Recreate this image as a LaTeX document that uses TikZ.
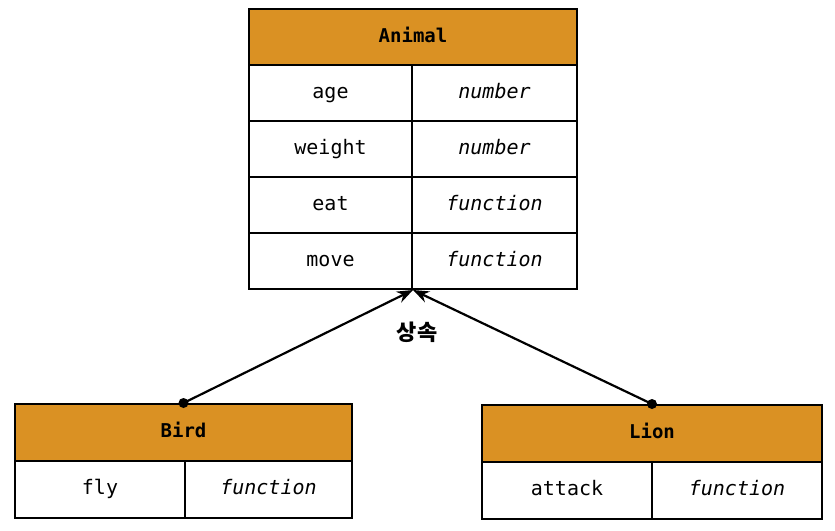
\documentclass[tikz,border=0pt]{standalone}
\usepackage{fontspec}
\setmonofont{DejaVu Sans Mono}
\newfontfamily\krfont{Noto Sans CJK KR}
\usetikzlibrary{arrows.meta}
\definecolor{headorange}{RGB}{218,145,35}
\tikzset{
  cell/.style={draw, line width=2pt, anchor=north west, inner sep=0pt,
    text height=14pt, text depth=4pt,
    font=\ttfamily\fontsize{20}{24}\selectfont},
  head/.style={cell, fill=headorange, font=\ttfamily\bfseries\fontsize{19}{24}\selectfont},
  kind/.style={cell, font=\ttfamily\itshape\fontsize{20}{24}\selectfont},
  inherit/.style={line width=2.2pt, -{Stealth[length=16pt,width=12pt]}},
  dot/.style={circle, fill=black, inner sep=0pt, minimum size=10pt}
}
\begin{document}
\begin{tikzpicture}[x=1pt,y=-1pt]
  \useasboundingbox[fill=white] (0,0) rectangle (835,530);
  % Animal
  \node[head, minimum width=328pt, minimum height=56pt] (animal) at (248,8) {Animal};
  \node[cell, minimum width=163pt, minimum height=56pt] (age) at (248,64) {age};
  \node[kind, minimum width=165pt, minimum height=56pt] (age-t) at (411,64) {number};
  \node[cell, minimum width=163pt, minimum height=56pt] (weight) at (248,120) {weight};
  \node[kind, minimum width=165pt, minimum height=56pt] (weight-t) at (411,120) {number};
  \node[cell, minimum width=163pt, minimum height=56pt] (eat) at (248,176) {eat};
  \node[kind, minimum width=165pt, minimum height=56pt] (eat-t) at (411,176) {function};
  \node[cell, minimum width=163pt, minimum height=56pt] (move) at (248,232) {move};
  \node[kind, minimum width=165pt, minimum height=56pt] (move-t) at (411,232) {function};
  % Bird
  \node[head, minimum width=337pt, minimum height=57pt] (bird) at (14,403) {Bird};
  \node[cell, minimum width=170pt, minimum height=57pt] (fly) at (14,460) {fly};
  \node[kind, minimum width=167pt, minimum height=57pt] (fly-t) at (184,460) {function};
  % Lion
  \node[head, minimum width=340pt, minimum height=57pt] (lion) at (481,404) {Lion};
  \node[cell, minimum width=170pt, minimum height=57pt] (attack) at (481,461) {attack};
  \node[kind, minimum width=170pt, minimum height=57pt] (attack-t) at (651,461) {function};
  % inheritance
  \node[dot] (bird-dot) at (bird.north) {};
  \node[dot] (lion-dot) at (lion.north) {};
  \draw[inherit] (bird-dot.center) to (move.south east);
  \draw[inherit] (lion-dot.center) to (move.south east);
  \node[font=\krfont\bfseries\fontsize{22}{26}\selectfont] (label) at (417,332) {상속};
\end{tikzpicture}
\end{document}
